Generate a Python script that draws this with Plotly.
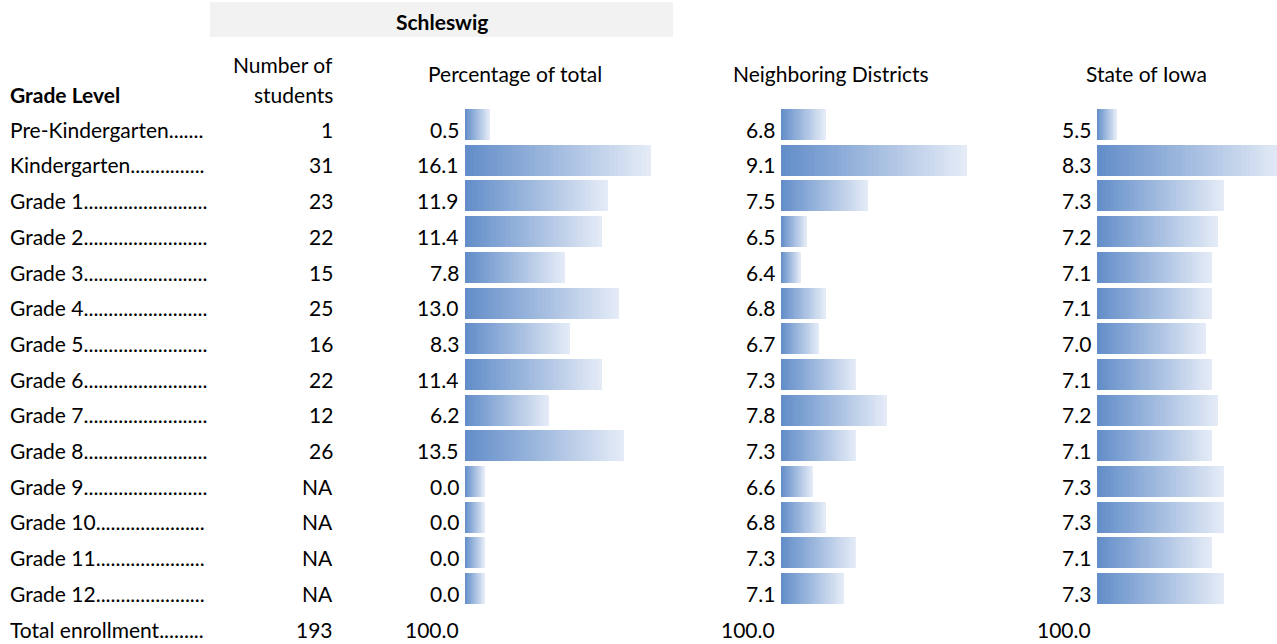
import plotly.graph_objects as go

# ---------------- data ----------------
grade_labels = ["Pre-Kindergarten", "Kindergarten", "Grade 1", "Grade 2", "Grade 3",
                "Grade 4", "Grade 5", "Grade 6", "Grade 7", "Grade 8", "Grade 9",
                "Grade 10", "Grade 11", "Grade 12"]
label_dots = [7, 15, 25, 25, 25, 25, 25, 25, 25, 25, 25, 22, 22, 22]
students = ["1", "31", "23", "22", "15", "25", "16", "22", "12", "26", "NA", "NA", "NA", "NA"]
pct_total = [0.5, 16.1, 11.9, 11.4, 7.8, 13.0, 8.3, 11.4, 6.2, 13.5, 0.0, 0.0, 0.0, 0.0]
neighboring = [6.8, 9.1, 7.5, 6.5, 6.4, 6.8, 6.7, 7.3, 7.8, 7.3, 6.6, 6.8, 7.3, 7.1]
iowa = [5.5, 8.3, 7.3, 7.2, 7.1, 7.1, 7.0, 7.1, 7.2, 7.1, 7.3, 7.3, 7.1, 7.3]
total_label = "Total enrollment"
total_dots = 9
total_students = "193"
total_values = ["100.0", "100.0", "100.0"]
group_title = "Schleswig"
col_titles = ["Percentage of total", "Neighboring Districts", "State of Iowa"]
first_title = "Grade Level"
count_title = ["Number of", "students"]

# ---------------- layout constants (pixels) ----------------
W, H = 1277, 644
ROW0 = 124.5       # centre of first bar
PITCH = 35.7
BAR_H = 31
TEXT_SHIFT = -4.7  # text centre sits a bit lower than bar centre
LMIN, LMAX = 19.5, 186
BAR_X0 = [465, 781, 1097]
DOMAIN_W = 205
FONT = "Lato"
FS = 21
C0 = (99, 142, 201)
C1 = (231, 237, 247)
NSTEP = 40

n = len(grade_labels)
y_top = (0 - ROW0) / PITCH
y_bot = (H - ROW0) / PITCH

fig = go.Figure()
series = [pct_total, neighboring, iowa]
axis_names = ["x", "x2", "x3"]
layout_axes = {}

for c, vals in enumerate(series):
    vmin, vmax = min(vals), max(vals)
    s = (LMAX - LMIN) / (vmax - vmin)
    a0 = vmin - LMIN / s
    x0 = BAR_X0[c]
    x1 = min(x0 + DOMAIN_W, W)
    xs, bases, ys, cols = [], [], [], []
    for k in range(NSTEP):
        t = k / NSTEP
        col = "rgb(%d,%d,%d)" % tuple(round(C0[j] + (C1[j] - C0[j]) * t) for j in range(3))
        for i, v in enumerate(vals):
            L = v - a0
            bases.append(a0 + L * t)
            xs.append(L * (1 - t))
            ys.append(i)
            cols.append(col)
    fig.add_trace(go.Bar(
        orientation="h", x=xs, base=bases, y=ys, width=BAR_H / PITCH,
        marker=dict(color=cols, line=dict(width=0)),
        xaxis=axis_names[c], yaxis="y", hoverinfo="skip", showlegend=False,
    ))
    key = "xaxis" if c == 0 else "xaxis%d" % (c + 1)
    layout_axes[key] = dict(domain=[x0 / W, x1 / W], range=[a0, a0 + (x1 - x0) / s],
                            visible=False, fixedrange=True, anchor="y")

ann = []
def txt(text, xpx, ypaper=None, yrow=None, anchor="left", bold=False):
    d = dict(text=("<b>%s</b>" % text) if bold else text, x=xpx / W, xref="paper",
             xanchor=anchor, yanchor="middle", showarrow=False,
             font=dict(family=FONT, size=FS, color="#000000"))
    if yrow is not None:
        d.update(y=yrow, yref="y", yshift=TEXT_SHIFT)
    else:
        d.update(y=1 - ypaper / H, yref="paper")
    ann.append(d)

for i in range(n):
    txt(grade_labels[i] + "." * label_dots[i], 8, yrow=i)
    txt(students[i], 335, yrow=i, anchor="right")
    for c, vals in enumerate(series):
        txt("%.1f" % vals[i], BAR_X0[c] - 4, yrow=i, anchor="right")

txt(total_label + "." * total_dots, 8, yrow=n)
txt(total_students, 335, yrow=n, anchor="right")
for c in range(3):
    txt(total_values[c], BAR_X0[c] - 4, yrow=n, anchor="right")

# headers
txt(first_title, 8, ypaper=94.2, bold=True)
txt(count_title[0], 335, ypaper=64.5, anchor="right")
txt(count_title[1], 335, ypaper=94.2, anchor="right")
for c, t in enumerate(col_titles):
    txt(t, BAR_X0[c] + 49.5, ypaper=73.5, anchor="center")
txt(group_title, 441.5, ypaper=21.7, anchor="center", bold=True)

fig.update_layout(
    width=W, height=H, margin=dict(l=0, r=0, t=0, b=0),
    paper_bgcolor="white", plot_bgcolor="rgba(0,0,0,0)",
    barmode="overlay", bargap=0,
    yaxis=dict(domain=[0, 1], range=[y_bot, y_top], visible=False, fixedrange=True),
    annotations=ann,
    shapes=[dict(type="rect", xref="paper", yref="paper", x0=210 / W, x1=673 / W,
                 y0=1 - 37 / H, y1=1 - 2 / H, fillcolor="#f2f2f2", line=dict(width=0),
                 layer="below")],
    **layout_axes,
)

fig.write_html("out.html", config={"displayModeBar": False},
               post_script="document.body.style.margin='0';document.body.style.overflow='hidden';")
